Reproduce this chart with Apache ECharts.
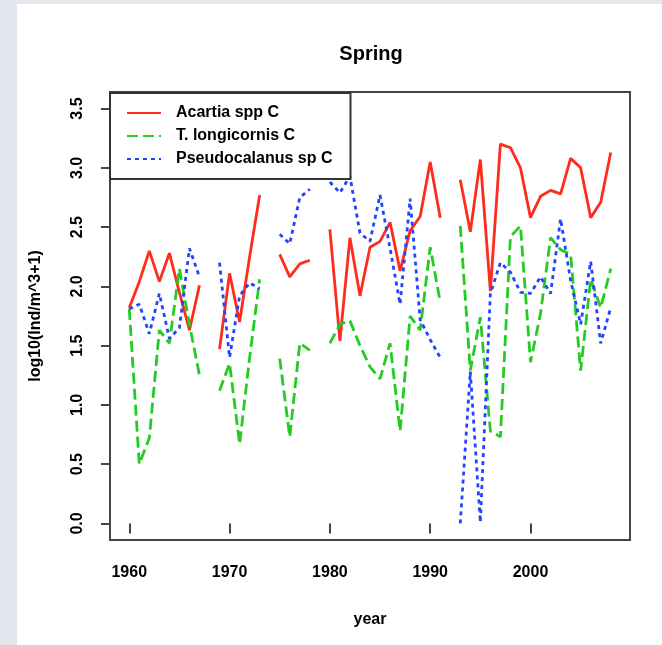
<!DOCTYPE html>
<html><head><meta charset="utf-8">
<script src="https://cdn.jsdelivr.net/npm/echarts@6/dist/echarts.min.js"></script>
<style>
html,body{margin:0;padding:0;background:#e4e7ee;width:662px;height:645px;overflow:hidden}
#c{position:absolute;left:17px;top:4px;width:645px;height:641px;background:#fff}
</style></head><body><div id="c"></div>
<script>
const years = [1960,1961,1962,1963,1964,1965,1966,1967,1968,1969,
  1970,1971,1972,1973,1974,1975,1976,1977,1978,1979,
  1980,1981,1982,1983,1984,1985,1986,1987,1988,1989,
  1990,1991,1992,1993,1994,1995,1996,1997,1998,1999,
  2000,2001,2002,2003,2004,2005,2006,2007,2008];
const acartia = [1.82,2.04,2.30,2.04,2.28,1.95,1.63,2.01,null,1.47,
  2.11,1.70,2.25,2.77,null,2.27,2.08,2.19,2.22,null,
  2.48,1.54,2.41,1.92,2.33,2.38,2.54,2.13,2.47,2.59,
  3.05,2.58,null,2.90,2.46,3.07,1.96,3.20,3.17,3.00,
  2.58,2.76,2.81,2.78,3.08,3.00,2.58,2.71,3.13];
const temora = [1.81,0.50,0.72,1.63,1.52,2.15,1.68,1.25,null,1.12,
  1.35,0.67,1.40,2.06,null,1.39,0.73,1.52,1.46,null,
  1.52,1.68,1.71,1.50,1.32,1.22,1.52,0.78,1.75,1.63,
  2.33,1.87,null,2.51,1.29,1.74,0.78,0.73,2.42,2.51,
  1.36,1.77,2.41,2.31,2.27,1.29,2.06,1.82,2.15];
const pseudo = [1.81,1.85,1.60,1.94,1.56,1.65,2.32,2.08,null,2.20,
  1.40,1.92,2.03,1.98,null,2.44,2.36,2.75,2.82,null,
  2.88,2.79,2.93,2.45,2.38,2.77,2.32,1.85,2.74,1.72,
  1.55,1.40,null,0.00,1.28,0.01,1.94,2.20,2.12,1.95,
  1.94,2.08,1.94,2.57,2.05,1.68,2.21,1.52,1.82];
const seriesNames = ['Acartia spp C','T. longicornis C','Pseudocalanus sp C'];
const xTicks = [1960,1970,1980,1990,2000];
const yTicks = [0,0.5,1,1.5,2,2.5,3,3.5];

const FONT = '"Liberation Sans", Arial, Helvetica, sans-serif';
const pairs = arr => years.map((y,i)=>[y, arr[i]]);
const txt = {fontFamily:FONT,fontSize:16,fontWeight:'bold',color:'#000'};

const chart = echarts.init(document.getElementById('c'), null, {renderer:'canvas'});
chart.setOption({
  animation:false,
  backgroundColor:'#fff',
  title:{text:'Spring',left:349,top:35,textAlign:'center',
    textStyle:{fontFamily:FONT,fontSize:20,fontWeight:'bold',color:'#000'}},
  grid:{left:93,top:88,right:32,bottom:105,show:true,borderColor:'#444',borderWidth:2,
    backgroundColor:'transparent',containLabel:false},
  legend:{orient:'vertical',left:93,top:89,padding:[12,18,12,16],
    itemWidth:34,itemHeight:14,itemGap:7,
    itemStyle:{color:'rgba(0,0,0,0)',borderWidth:0,opacity:0},
    backgroundColor:'#fff',borderColor:'#333',borderWidth:2,borderRadius:0,
    textStyle:Object.assign({},txt,{padding:[0,0,0,10]}),
    data:seriesNames},
  xAxis:{type:'value',min:1958.08,max:2009.92,
    axisLine:{show:false},splitLine:{show:false},
    axisTick:{show:true,customValues:xTicks,length:10,lineStyle:{color:'#444',width:2}},
    axisLabel:Object.assign({customValues:xTicks,margin:25,formatter:v=>String(v)},txt),
    name:'year',nameLocation:'middle',nameGap:72,nameTextStyle:txt},
  yAxis:{type:'value',min:-0.14,max:3.64,
    axisLine:{show:false},splitLine:{show:false},
    axisTick:{show:true,customValues:yTicks,length:9,lineStyle:{color:'#444',width:2}},
    axisLabel:Object.assign({customValues:yTicks,margin:24,rotate:90,
      formatter:v=>Number(v).toFixed(1)},txt),
    name:'log10(Ind/m^3+1)',nameLocation:'middle',nameGap:66,nameRotate:90,nameTextStyle:txt},
  series:[
    {name:seriesNames[0],type:'line',data:pairs(acartia),symbol:'none',connectNulls:false,
      lineStyle:{color:'#ff2b1c',width:2.8,type:'solid'},itemStyle:{color:'#ff2b1c'}},
    {name:seriesNames[1],type:'line',data:pairs(temora),symbol:'none',connectNulls:false,
      lineStyle:{color:'#22cc22',width:2.8,type:[11,5]},itemStyle:{color:'#22cc22'}},
    {name:seriesNames[2],type:'line',data:pairs(pseudo),symbol:'none',connectNulls:false,
      lineStyle:{color:'#2244ff',width:2.8,type:[4,4]},itemStyle:{color:'#2244ff'}}
  ]
});
</script></body></html>
